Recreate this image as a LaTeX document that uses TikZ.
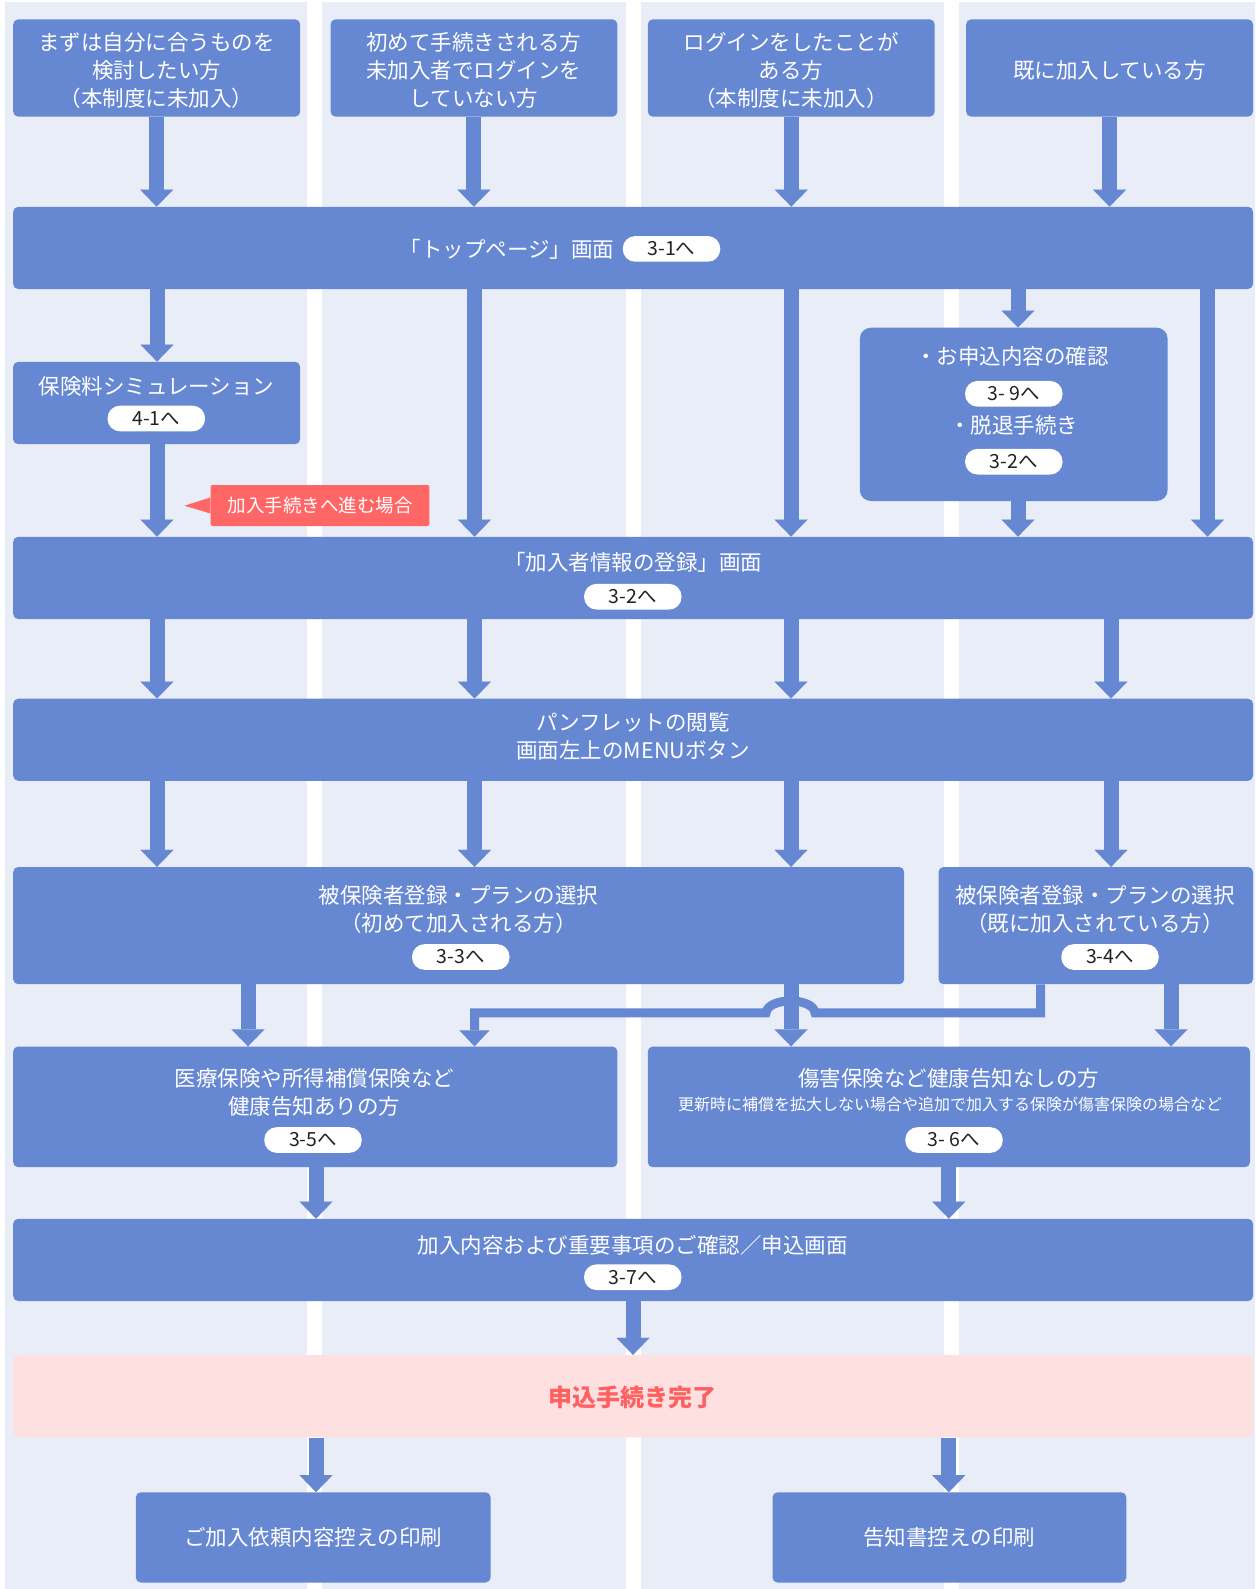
\documentclass[tikz,border=0pt]{standalone}
\usepackage{fontspec}
\setmainfont{Noto Sans CJK JP}
\usetikzlibrary{arrows.meta}
\definecolor{bblue}{RGB}{102,135,210}
\definecolor{lbg}{RGB}{233,237,248}
\definecolor{pinkbg}{RGB}{255,224,224}
\definecolor{redtxt}{RGB}{255,96,96}
\definecolor{calloutred}{RGB}{255,102,102}
\definecolor{pilltxt}{RGB}{34,34,34}
\tikzset{
  box/.style={fill=bblue, rounded corners=5pt, inner sep=0pt, draw=none},
  txt/.style={text=white, font=\fontsize{21.5}{28}\selectfont, align=center, inner sep=0pt},
  smalltxt/.style={text=white, font=\fontsize{16}{20}\selectfont, align=center, inner sep=0pt},
  pill/.style={fill=white, rounded corners=12.5pt, minimum width=97.5pt, minimum height=25.7pt, inner sep=0pt, text=pilltxt, font=\fontsize{19.5}{22}\selectfont},
  arr/.style={draw=bblue, line width=15pt, -{Triangle[length=17pt,width=33pt,line width=0.01pt]}},
  hop/.style={draw=bblue, line width=9pt, line join=miter, -{Triangle[length=16pt,width=30pt,line width=0.01pt]}},
  calloutbox/.style={fill=calloutred, rounded corners=2pt, inner sep=0pt, text=white, font=\fontsize{18.5}{22}\selectfont}
}
\begin{document}
\begin{tikzpicture}[x=1pt,y=-1pt]
\useasboundingbox (0,0) rectangle (1255,1589);
% background columns
\fill[lbg] (5,2) rectangle (1255,1589);
\fill[white] (307.2,2) rectangle (322.4,1589);
\fill[white] (625.5,2) rectangle (640.7,1589);
\fill[white] (943.8,2) rectangle (959,1589);

% column coordinates
\coordinate (k1) at (157,0);
\coordinate (k2) at (474.5,0);
\coordinate (k3) at (791,0);
\coordinate (k4) at (1111,0);
\coordinate (k6) at (1018,0);
\coordinate (k7) at (1207.5,0);
\coordinate (k8) at (248,0);
\coordinate (k9) at (1040.5,0);
\coordinate (k10) at (1171,0);
\coordinate (k11) at (316,0);
\coordinate (k12) at (948.8,0);
\coordinate (k13) at (633,0);

% row 1
\node[box, minimum width=286.9pt, minimum height=97.3pt] (tA) at (156.65,68) {};
\node[txt] (tAt) at (156.6,70.4) {まずは自分に合うものを\\検討したい方\\（本制度に未加入）};
\node[box, minimum width=286.9pt, minimum height=97.3pt] (tB) at (473.95,68) {};
\node[txt] (tBt) at (473.9,70.4) {初めて手続きされる方\\未加入者でログインを\\していない方};
\node[box, minimum width=286.9pt, minimum height=97.3pt] (tC) at (791.25,68) {};
\node[txt] (tCt) at (791.2,70.4) {ログインをしたことが\\ある方\\（本制度に未加入）};
\node[box, minimum width=286.9pt, minimum height=97.3pt] (tD) at (1109.55,68) {};
\node[txt] (tDt) at (1109.5,70) {既に加入している方};

% top page bar
\node[box, minimum width=1239.8pt, minimum height=82.2pt] (top) at (633.1,247.9) {};
\node[txt] (topt) at (507,249.5) {「トップページ」画面};
\node[pill] (p31) at (671.5,248.9) {3-1へ};

% simulation
\node[box, minimum width=286.9pt, minimum height=82.4pt] (sim) at (156.65,403) {};
\node[txt] (simt) at (156.5,386.7) {保険料シミュレーション};
\node[pill] (p41) at (156.3,418.5) {4-1へ};

% confirmation box
\node[box, rounded corners=11pt, minimum width=307.8pt, minimum height=173.3pt] (conf) at (1013.7,414.35) {};
\node[txt] (conft1) at (1012,356) {・お申込内容の確認};
\node[pill] (p39) at (1013.8,393.8) {3- 9へ};
\node[txt] (conft2) at (1013.5,425.7) {・脱退手続き};
\node[pill] (p32a) at (1013.8,461.7) {3-2へ};

% callout
\node[calloutbox, minimum width=218.8pt, minimum height=41pt] (cl) at (320,505.5) {加入手続きへ進む場合};
\coordinate (clp) at (184.5,505.7);
\fill[calloutred] ([yshift=8pt]cl.west) -- (clp) -- ([yshift=-8pt]cl.west) -- cycle;

% registration bar
\node[box, minimum width=1239.8pt, minimum height=82.2pt] (reg) at (633.1,577.9) {};
\node[txt] (regt) at (633,562.3) {「加入者情報の登録」画面};
\node[pill] (p32b) at (632.8,596.7) {3-2へ};

% pamphlet bar
\node[box, minimum width=1239.8pt, minimum height=82.1pt] (pam) at (633.1,739.75) {};
\node[txt] (pamt) at (633,736.7) {パンフレットの閲覧\\画面左上のMENUボタン};

% plan boxes
\node[box, minimum width=891pt, minimum height=117.2pt] (plan1) at (458.7,925.6) {};
\node[txt] (plan1t) at (458.5,909.2) {被保険者登録・プランの選択\\（初めて加入される方）};
\node[pill] (p33) at (460.8,957) {3-3へ};
\node[box, minimum width=314.5pt, minimum height=117.2pt] (plan2) at (1095.75,925.6) {};
\node[txt] (plan2t) at (1095,909.2) {被保険者登録・プランの選択\\（既に加入されている方）};
\node[pill] (p34) at (1110,957) {3-4へ};

% medical / injury
\node[box, minimum width=604.2pt, minimum height=120.7pt] (med) at (315.3,1106.85) {};
\node[txt] (medt) at (314.3,1092.5) {医療保険や所得補償保険など\\健康告知ありの方};
\node[pill] (p35) at (313,1140) {3-5へ};
\node[box, minimum width=602.2pt, minimum height=120.7pt] (inj) at (948.9,1106.85) {};
\node[txt] (injt) at (948.8,1078) {傷害保険など健康告知なしの方};
\node[smalltxt] (injs) at (950,1104) {更新時に補償を拡大しない場合や追加で加入する保険が傷害保険の場合など};
\node[pill] (p36) at (954,1140) {3- 6へ};

% confirm / apply bar
\node[box, minimum width=1239.8pt, minimum height=82.2pt] (cbar) at (633.1,1259.9) {};
\node[txt] (cbart) at (632.5,1245) {加入内容および重要事項のご確認／申込画面};
\node[pill] (p37) at (632.8,1277.2) {3-7へ};

% completion
\node[box, fill=pinkbg, minimum width=1239.8pt, minimum height=82.3pt] (pink) at (633.1,1396.15) {};
\node[inner sep=0pt, text=redtxt, font=\fontsize{24}{28}\selectfont\bfseries] (pinkt) at (632.5,1397.3) {申込手続き完了};

% print boxes
\node[box, txt, minimum width=354.8pt, minimum height=90.2pt] (pr1) at (313.2,1537.4) {ご加入依頼内容控えの印刷};
\node[box, txt, minimum width=353.8pt, minimum height=90.2pt] (pr2) at (949.4,1537.4) {告知書控えの印刷};

% arrows
\draw[arr] (tA.south) -- (tA.south |- top.north);
\draw[arr] (tB.south) -- (tB.south |- top.north);
\draw[arr] (tC.south) -- (tC.south |- top.north);
\draw[arr] (tD.south) -- (tD.south |- top.north);

\draw[arr] (top.south -| k1) -- (sim.north -| k1);
\draw[arr] (top.south -| k2) -- (reg.north -| k2);
\draw[arr] (top.south -| k3) -- (reg.north -| k3);
\draw[arr] (top.south -| k6) -- (conf.north -| k6);
\draw[arr] (top.south -| k7) -- (reg.north -| k7);
\draw[arr] (sim.south -| k1) -- (reg.north -| k1);
\draw[arr] (conf.south -| k6) -- (reg.north -| k6);

\foreach \k in {k1,k2,k3,k4} {
  \draw[arr] (reg.south -| \k) -- (pam.north -| \k);
}
\draw[arr] (pam.south -| k1) -- (plan1.north -| k1);
\draw[arr] (pam.south -| k2) -- (plan1.north -| k2);
\draw[arr] (pam.south -| k3) -- (plan1.north -| k3);
\draw[arr] (pam.south -| k4) -- (plan2.north -| k4);

\draw[arr] (plan1.south -| k8) -- (med.north -| k8);
\draw[arr] (plan1.south -| k3) -- (inj.north -| k3);
\draw[arr] (plan2.south -| k10) -- (inj.north -| k10);

\coordinate (hy) at (0,1012.8);
\coordinate (hR) at (815,1012.8);
\coordinate (hL) at (766,1012.8);
\coordinate (hRc) at (813,997);
\coordinate (hLc) at (768,997);
\draw[hop] (plan2.south -| k9) -- (k9 |- hy) -- (hR) .. controls (hRc) and (hLc) .. (hL) -- (k2 |- hy) -- (med.north -| k2);

\draw[arr] (med.south -| k11) -- (cbar.north -| k11);
\draw[arr] (inj.south -| k12) -- (cbar.north -| k12);
\draw[arr] (cbar.south -| k13) -- (pink.north -| k13);
\draw[arr] (pink.south -| k11) -- (pr1.north -| k11);
\draw[arr] (pink.south -| k12) -- (pr2.north -| k12);
\end{tikzpicture}
\end{document}
